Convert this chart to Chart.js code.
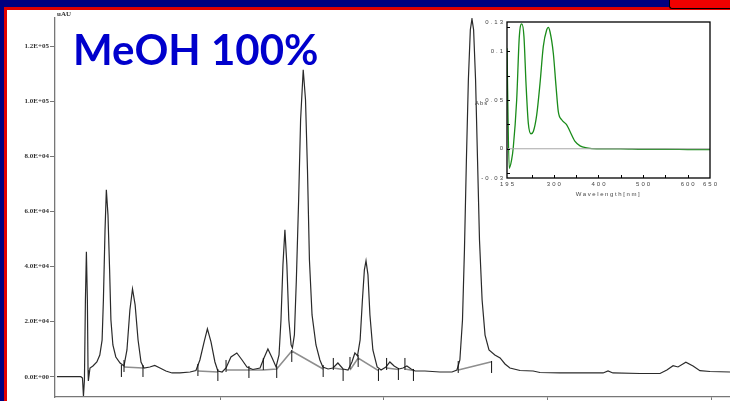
<!DOCTYPE html>
<html>
<head>
<meta charset="utf-8">
<script src="https://cdn.jsdelivr.net/npm/chart.js@4.4.1/dist/chart.umd.min.js"></script>
<style>
html,body{margin:0;padding:0;background:#fff;overflow:hidden;width:730px;height:401px;}
#main{position:absolute;left:0;top:0;}
#inset{position:absolute;left:470px;top:15px;}
.title{position:absolute;left:73px;top:28px;font-family:Lato,"Open Sans",sans-serif;font-weight:bold;font-size:42px;line-height:42px;color:#0000CC;white-space:nowrap;}
.navyTop{position:absolute;left:0;top:0;width:730px;height:7px;background:#000080;z-index:5;}
.redTop{position:absolute;left:4px;top:7px;width:726px;height:3px;background:#E00000;z-index:5;}
.navyLeft{position:absolute;left:0;top:0;width:4px;height:401px;background:#000080;z-index:5;}
.redLeft{position:absolute;left:4px;top:7px;width:3px;height:394px;background:#E00000;z-index:5;}
.redBox{position:absolute;left:669px;top:0;width:61px;height:8px;background:#F00000;border-left:1px solid #000;border-bottom:1px solid #000;border-bottom-left-radius:3px;z-index:6;}
</style>
</head>
<body>
<canvas id="main" width="730" height="420"></canvas>
<canvas id="inset" width="260" height="190"></canvas>
<div class="title">MeOH 100%</div>
<div class="navyTop"></div><div class="navyLeft"></div><div class="redTop"></div><div class="redLeft"></div><div class="redBox"></div>
<script>
// ---------- Chromatogram (time in min, signal in uAU) ----------
const traceTime = [0,0.40,0.73,0.78,0.81,0.84,0.87,0.90,0.93,0.95,0.96,1.01,1.10,1.22,1.31,1.38,1.42,1.47,1.51,1.56,1.61,1.65,1.71,1.80,1.93,2.05,2.14,2.23,2.31,2.39,2.48,2.57,2.66,2.84,2.99,3.15,3.33,3.52,3.76,4.07,4.25,4.37,4.50,4.60,4.71,4.83,4.92,5.05,5.17,5.32,5.50,5.66,5.81,5.99,6.21,6.33,6.45,6.58,6.70,6.79,6.85,6.91,6.97,7.03,7.09,7.16,7.20,7.26,7.32,7.39,7.45,7.53,7.60,7.66,7.72,7.80,7.92,8.04,8.13,8.29,8.44,8.59,8.75,8.90,9.02,9.11,9.19,9.27,9.34,9.40,9.45,9.51,9.57,9.66,9.79,9.91,10.06,10.18,10.31,10.46,10.58,10.70,10.83,10.95,11.25,11.71,12.08,12.23,12.32,12.40,12.46,12.52,12.58,12.64,12.69,12.74,12.80,12.86,12.92,13.00,13.09,13.21,13.39,13.55,13.70,13.85,14.16,14.56,14.77,15.38,15.99,16.70,16.85,17.00,17.83,18.44,18.65,18.84,18.99,19.23,19.45,19.66,19.97,20.58];
const traceSignal = [0,0,0,-470,-7000,-1200,27850,45400,27850,2440,-1560,3160,3890,5340,7890,13300,27850,53340,67880,58800,38800,20620,11530,7160,4980,3890,9710,24250,31890,26070,13340,5340,3160,3530,4070,3160,2070,1350,1350,1710,2250,6070,12620,17340,12620,5340,2070,1710,3160,7160,8620,6070,3530,2620,3160,6800,10070,6800,3530,7890,20620,40620,53340,40620,20620,11530,10440,15160,35160,64250,93340,111520,100600,75160,42430,22430,11530,6070,3530,2800,3160,4980,2800,2440,5340,8620,7530,13340,27850,38800,42070,36980,22430,9710,3530,2440,3530,5340,3890,2800,3160,3890,2800,2070,2070,1710,1710,2440,6070,20620,46070,78790,107880,126060,130000,126060,107880,78790,49700,27850,15130,9710,7890,6800,4620,3160,2250,2070,1530,1350,1350,1350,2070,1350,1160,1160,2440,4000,3530,5240,3890,2180,1890,1710];

// integration baselines (null = gap)
const baselineTime   = [2.05,2.63,2.63, 4.31,4.92,4.92, 5.17,6.30,6.72,7.18,8.14,8.14, 8.45,8.75,8.75, 8.96,9.21,9.83,9.83, 10.08,10.44,10.44, 10.64,10.90,10.90, 12.27,13.29];
const baselineSignal = [3530,3160,null, 2070,1710,null, 2440,2440,2800,9340,2800,null, 3160,2620,null, 2440,6800,2180,null, 3160,2620,null, 2800,2250,null, 2440,5450];

// peak start / end markers
const markerTime   = [1.97,2.05,2.63,4.31,4.92,5.17,5.87,6.31,6.72,7.18,8.14,8.45,8.75,8.96,9.21,9.83,10.08,10.44,10.64,10.90,12.27,13.29];
const markerSignal = [2070,3890,2070,2440,620,3890,1710,4620,1710,7530,2070,4620,620,4980,5710,620,4620,980,4620,620,3530,3530];

const yTickValues = [0,20000,40000,60000,80000,100000,120000];
const yTickLabels = ['0.0E+00','2.0E+04','4.0E+04','6.0E+04','8.0E+04','1.0E+05','1.2E+05'];
const xTickValues = [5,10,15,20];
const xTickLabels = ['5.00','10.00','15.00','20.00'];

// ---------- UV spectrum inset ----------
const wavelength = [195,200,205.5,209,216.7,222.6,228,233,237.6,242.8,248.8,254,261.6,269,276.4,284,287.6,291.4,298.8,304.9,310,317.6,328.8,336.3,347.5,358.7,373.7,396,450,500,550,600,650];
const absorbance = [0.103,-0.020,-0.011,0.001,0.05,0.115,0.128,0.115,0.067,0.026,0.0154,0.0177,0.0348,0.067,0.105,0.122,0.1245,0.120,0.098,0.064,0.038,0.0297,0.0246,0.0177,0.0075,0.003,0.001,0.0,0.0,-0.0005,-0.0005,-0.0008,-0.001];
const zeroLineX = [195,650];
const zeroLineY = [0,0];
const insetYTicks = [-0.03,0,0.05,0.1,0.13];
const insetYTickLabels = ['-0.03','0','0.05','0.1','0.13'];
const insetXTicks = [195,300,400,500,600,650];
const insetXTickLabels = ['195','300','400','500','600','650'];
const insetYMinor = [-0.025,0,0.025,0.05,0.075,0.1,0.125];
const insetXMinor = [250,300,350,400,450,500,550,600];

const pts = (xs, ys) => xs.map((x,i)=>({x:x, y:ys[i]}));
const tickFont = {family:'Liberation Serif', size:7, weight:'bold'};

new Chart(document.getElementById('main'), {
  type:'scatter',
  data:{datasets:[
    {label:'Baseline', data:pts(baselineTime,baselineSignal), showLine:true, spanGaps:false, borderColor:'#8e8e8e', borderWidth:1.6, pointRadius:0, order:3},
    {label:'Chromatogram', data:pts(traceTime,traceSignal), showLine:true, borderColor:'#2a2a2a', borderWidth:1.2, pointRadius:0, tension:0, order:2},
    {label:'Markers', data:pts(markerTime,markerSignal), showLine:false, pointStyle:'line', pointRotation:90, pointRadius:6, pointBorderColor:'#111', pointBorderWidth:1, order:1}
  ]},
  options:{
    responsive:false, animation:false, events:[],
    layout:{autoPadding:false, padding:{left:0,top:18,right:0,bottom:0}},
    plugins:{legend:{display:false}, tooltip:{enabled:false}},
    scales:{
      x:{type:'linear', min:-0.06, max:20.58,
         afterFit(s){s.height=23; s.paddingLeft=0; s.paddingRight=0;},
         afterBuildTicks(s){s.ticks=xTickValues.map(v=>({value:v}));},
         ticks:{callback:(v,i)=>xTickLabels[i], font:tickFont, color:'#333', padding:0, maxRotation:0, autoSkip:false},
         grid:{drawOnChartArea:false, tickLength:3, color:'#777'},
         border:{color:'#777', width:1.3}},
      y:{type:'linear', min:-7380, max:130320,
         afterFit(s){s.width=55; s.paddingTop=0; s.paddingBottom=0;},
         afterBuildTicks(s){s.ticks=yTickValues.map(v=>({value:v}));},
         ticks:{callback:(v,i)=>yTickLabels[i], font:tickFont, color:'#333', padding:1, autoSkip:false},
         grid:{drawOnChartArea:false, tickLength:5, color:'#777'},
         border:{color:'#777', width:1.3}}
    }
  },
  plugins:[{id:'units', afterDraw(c){
    const ctx=c.ctx; ctx.save();
    ctx.font='bold 7px "Liberation Serif"'; ctx.fillStyle='#333';
    ctx.textAlign='left'; ctx.textBaseline='middle';
    ctx.fillText('uAU', 57, 14);
    ctx.restore();
  }}]
});

new Chart(document.getElementById('inset'), {
  type:'scatter',
  data:{datasets:[
    {label:'zero', data:pts(zeroLineX,zeroLineY), showLine:true, borderColor:'#a8a8a8', borderWidth:1, pointRadius:0},
    {label:'Spectrum', data:pts(wavelength,absorbance), showLine:true, borderColor:'#1a8c1a', borderWidth:1.3, pointRadius:0, cubicInterpolationMode:'monotone'}
  ]},
  options:{
    responsive:false, animation:false, events:[],
    layout:{autoPadding:false, padding:{left:0,top:7,right:20,bottom:0}},
    plugins:{legend:{display:false}, tooltip:{enabled:false}},
    scales:{
      x:{type:'linear', min:195, max:650, afterFit(s){s.height=27; s.paddingLeft=0; s.paddingRight=0;}, ticks:{display:false}, grid:{display:false}, border:{display:false}},
      y:{type:'linear', min:-0.03, max:0.13, afterFit(s){s.width=37; s.paddingTop=0; s.paddingBottom=0;}, ticks:{display:false}, grid:{display:false}, border:{display:false}}
    }
  },
  plugins:[{id:'frame', afterDraw(c){
    const ctx=c.ctx, a=c.chartArea, xs=c.scales.x, ys=c.scales.y;
    ctx.save();
    ctx.strokeStyle='#000'; ctx.lineWidth=1.3;
    ctx.strokeRect(a.left, a.top, a.right-a.left, a.bottom-a.top);
    ctx.lineWidth=1;
    insetYMinor.forEach(v=>{const y=Math.round(ys.getPixelForValue(v))+0.5; ctx.beginPath(); ctx.moveTo(a.left,y); ctx.lineTo(a.left+3,y); ctx.stroke();});
    insetXMinor.forEach(v=>{const x=Math.round(xs.getPixelForValue(v))+0.5; ctx.beginPath(); ctx.moveTo(x,a.bottom); ctx.lineTo(x,a.bottom-3); ctx.stroke();});
    ctx.fillStyle='#444'; ctx.font='6px "Liberation Sans"';
    ctx.letterSpacing='2px';
    ctx.textAlign='right'; ctx.textBaseline='middle';
    insetYTicks.forEach((v,i)=>ctx.fillText(insetYTickLabels[i], a.left-2, ys.getPixelForValue(v)));
    ctx.textAlign='center'; ctx.textBaseline='middle';
    insetXTicks.forEach((v,i)=>ctx.fillText(insetXTickLabels[i], xs.getPixelForValue(v)+1, a.bottom+6));
    ctx.letterSpacing='1.6px';
    ctx.fillText('Wavelength[nm]', (a.left+a.right)/2, a.bottom+16);
    ctx.letterSpacing='1px'; ctx.textAlign='left';
    ctx.fillText('Abs', 5, 88);
    ctx.restore();
  }}]
});
</script>
</body>
</html>
